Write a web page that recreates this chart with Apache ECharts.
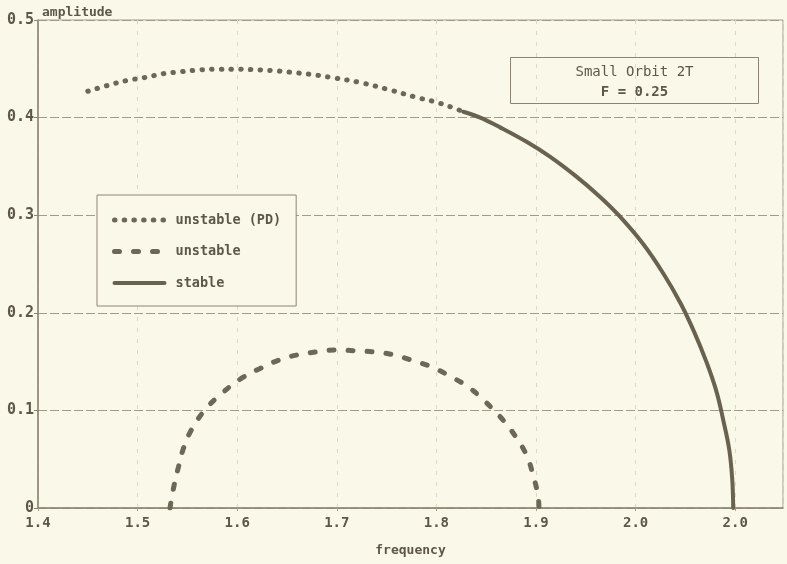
<!DOCTYPE html>
<html>
<head>
<meta charset="utf-8">
<title>Small Orbit 2T</title>
<script src="https://cdn.jsdelivr.net/npm/echarts@6/dist/echarts.min.js"></script>
<style>
  html, body { margin: 0; padding: 0; background: #faf8e8; }
  #chart { width: 787px; height: 564px; }
</style>
</head>
<body>
<div id="chart"></div>
<script>
// Amplitude–frequency response curves, F = 0.25
const xTickLabels = ['1.4', '1.5', '1.6', '1.7', '1.8', '1.9', '2.0', '2.0'];
const yTickLabels = ['0', '0.1', '0.2', '0.3', '0.4', '0.5'];

// Period-doubling unstable branch (dotted)
const pdFreq = [1.450, 1.470, 1.489, 1.507, 1.526, 1.544, 1.563, 1.581, 1.600, 1.618,
                1.638, 1.658, 1.676, 1.695, 1.723, 1.751, 1.779, 1.799, 1.817, 1.827];
const pdAmp  = [0.427, 0.433, 0.438, 0.441, 0.445, 0.447, 0.449, 0.4495, 0.4495, 0.449,
                0.448, 0.446, 0.444, 0.441, 0.436, 0.429, 0.421, 0.416, 0.410, 0.406];

// Unstable branch (dashed)
const unFreq = [1.5325, 1.536, 1.541, 1.546, 1.554, 1.568, 1.584, 1.6045, 1.623, 1.643,
                1.661, 1.680, 1.700, 1.720, 1.737, 1.757, 1.7735, 1.794, 1.812, 1.832,
                1.849, 1.867, 1.881, 1.891, 1.897, 1.902, 1.903];
const unAmp  = [0.000, 0.020, 0.042, 0.061, 0.080, 0.101, 0.117, 0.133, 0.143, 0.152,
                0.157, 0.160, 0.162, 0.161, 0.160, 0.157, 0.152, 0.145, 0.136, 0.124,
                0.109, 0.090, 0.071, 0.053, 0.034, 0.013, 0.000];

// Stable branch (solid)
const stFreq = [1.827, 1.844, 1.864, 1.891, 1.914, 1.940, 1.963, 1.983, 2.008, 2.028,
                2.045, 2.059, 2.071, 2.081, 2.088, 2.094, 2.097, 2.098];
const stAmp  = [0.406, 0.400, 0.390, 0.375, 0.360, 0.340, 0.320, 0.300, 0.270, 0.240,
                0.210, 0.180, 0.150, 0.120, 0.090, 0.060, 0.030, 0.000];

const zip = (xs, ys) => xs.map((x, i) => [x, ys[i]]);

const ink = '#6c6756';
const textColor = '#5c5748';
const mono = '"DejaVu Sans Mono", "Liberation Mono", monospace';

const dotted = { width: 5, type: [0.5, 9.2], cap: 'round', color: ink };
const dashed = { width: 5, type: [5, 14], cap: 'round', color: ink };
const solid  = { width: 4, type: 'solid', cap: 'round', color: '#696250' };

const chart = echarts.init(document.getElementById('chart'), null, { renderer: 'canvas' });

chart.setOption({
  backgroundColor: '#faf8e8',
  animation: false,
  textStyle: { fontFamily: mono },
  grid: {
    left: 38, right: 4, top: 20, bottom: 56,
    show: true, borderColor: '#a59e8c', borderWidth: 1, backgroundColor: 'transparent'
  },
  xAxis: {
    type: 'value',
    min: 1.4, max: 2.148, interval: 0.1,
    name: 'frequency',
    nameLocation: 'middle', nameGap: 36,
    nameTextStyle: { color: textColor, fontFamily: mono, fontSize: 13, fontWeight: 'bold' },
    axisLine: { show: true, lineStyle: { color: '#8c8472', width: 1.5 } },
    axisTick: { show: true, length: 3, lineStyle: { color: '#a59e8c' } },
    axisLabel: {
      color: textColor, fontFamily: mono, fontSize: 14, fontWeight: 'bold', margin: 8,
      showMaxLabel: false,
      formatter: v => {
        const i = Math.round((v - 1.4) / 0.1);
        return Math.abs(v - (1.4 + i * 0.1)) < 1e-6 && xTickLabels[i] !== undefined ? xTickLabels[i] : '';
      }
    },
    splitLine: { show: true, lineStyle: { color: '#dcd7c6', width: 1, type: [4, 7] } }
  },
  yAxis: {
    type: 'value',
    min: 0, max: 0.5, interval: 0.1,
    name: 'amplitude',
    nameLocation: 'end', nameGap: 1,
    nameTextStyle: { color: textColor, fontFamily: mono, fontSize: 13, fontWeight: 'bold',
                     align: 'left', verticalAlign: 'bottom', padding: [0, 0, 0, 4] },
    axisLine: { show: true, lineStyle: { color: '#8c8472', width: 1.5 } },
    axisTick: { show: true, length: 4, lineStyle: { color: '#8c8472' } },
    axisLabel: {
      color: textColor, fontFamily: mono, fontSize: 15, fontWeight: 'bold', margin: 4,
      formatter: v => yTickLabels[Math.round(v / 0.1)]
    },
    splitLine: { show: true, lineStyle: { color: '#a39b89', width: 1, type: [9, 3] } }
  },
  legend: {
    orient: 'vertical',
    left: 97, top: 195,
    padding: [18, 15, 16, 15],
    itemWidth: 50, itemHeight: 14, itemGap: 17.5,
    backgroundColor: '#faf8e8',
    borderColor: '#8c8472', borderWidth: 1,
    itemStyle: { opacity: 0 },
    textStyle: { color: textColor, fontFamily: mono, fontSize: 13.5, fontWeight: 'bold',
                 padding: [0, 0, 0, 6] },
    data: [
      { name: 'unstable (PD)', lineStyle: dotted },
      { name: 'unstable', lineStyle: dashed },
      { name: 'stable', lineStyle: solid }
    ]
  },
  graphic: [
    {
      type: 'group', left: 510, top: 57,
      children: [
        { type: 'rect', shape: { x: 0, y: 0, width: 248, height: 46 },
          style: { fill: '#faf8e8', stroke: '#8c8472', lineWidth: 1 } },
        { type: 'text', x: 124, y: 15,
          style: { text: 'Small Orbit 2T', fill: textColor, font: '14px ' + mono,
                   textAlign: 'center', textVerticalAlign: 'middle' } },
        { type: 'text', x: 124, y: 35,
          style: { text: 'F = 0.25', fill: textColor, font: 'bold 14px ' + mono,
                   textAlign: 'center', textVerticalAlign: 'middle' } }
      ]
    }
  ],
  series: [
    { name: 'unstable (PD)', type: 'line', data: zip(pdFreq, pdAmp),
      symbol: 'none', smooth: 0.4, lineStyle: dotted, itemStyle: { color: ink }, z: 3 },
    { name: 'unstable', type: 'line', data: zip(unFreq, unAmp),
      symbol: 'none', smooth: 0.4, lineStyle: dashed, itemStyle: { color: ink }, z: 3 },
    { name: 'stable', type: 'line', data: zip(stFreq, stAmp),
      symbol: 'none', smooth: 0.4, lineStyle: solid, itemStyle: { color: '#696250' }, z: 4 }
  ]
});
</script>
</body>
</html>
